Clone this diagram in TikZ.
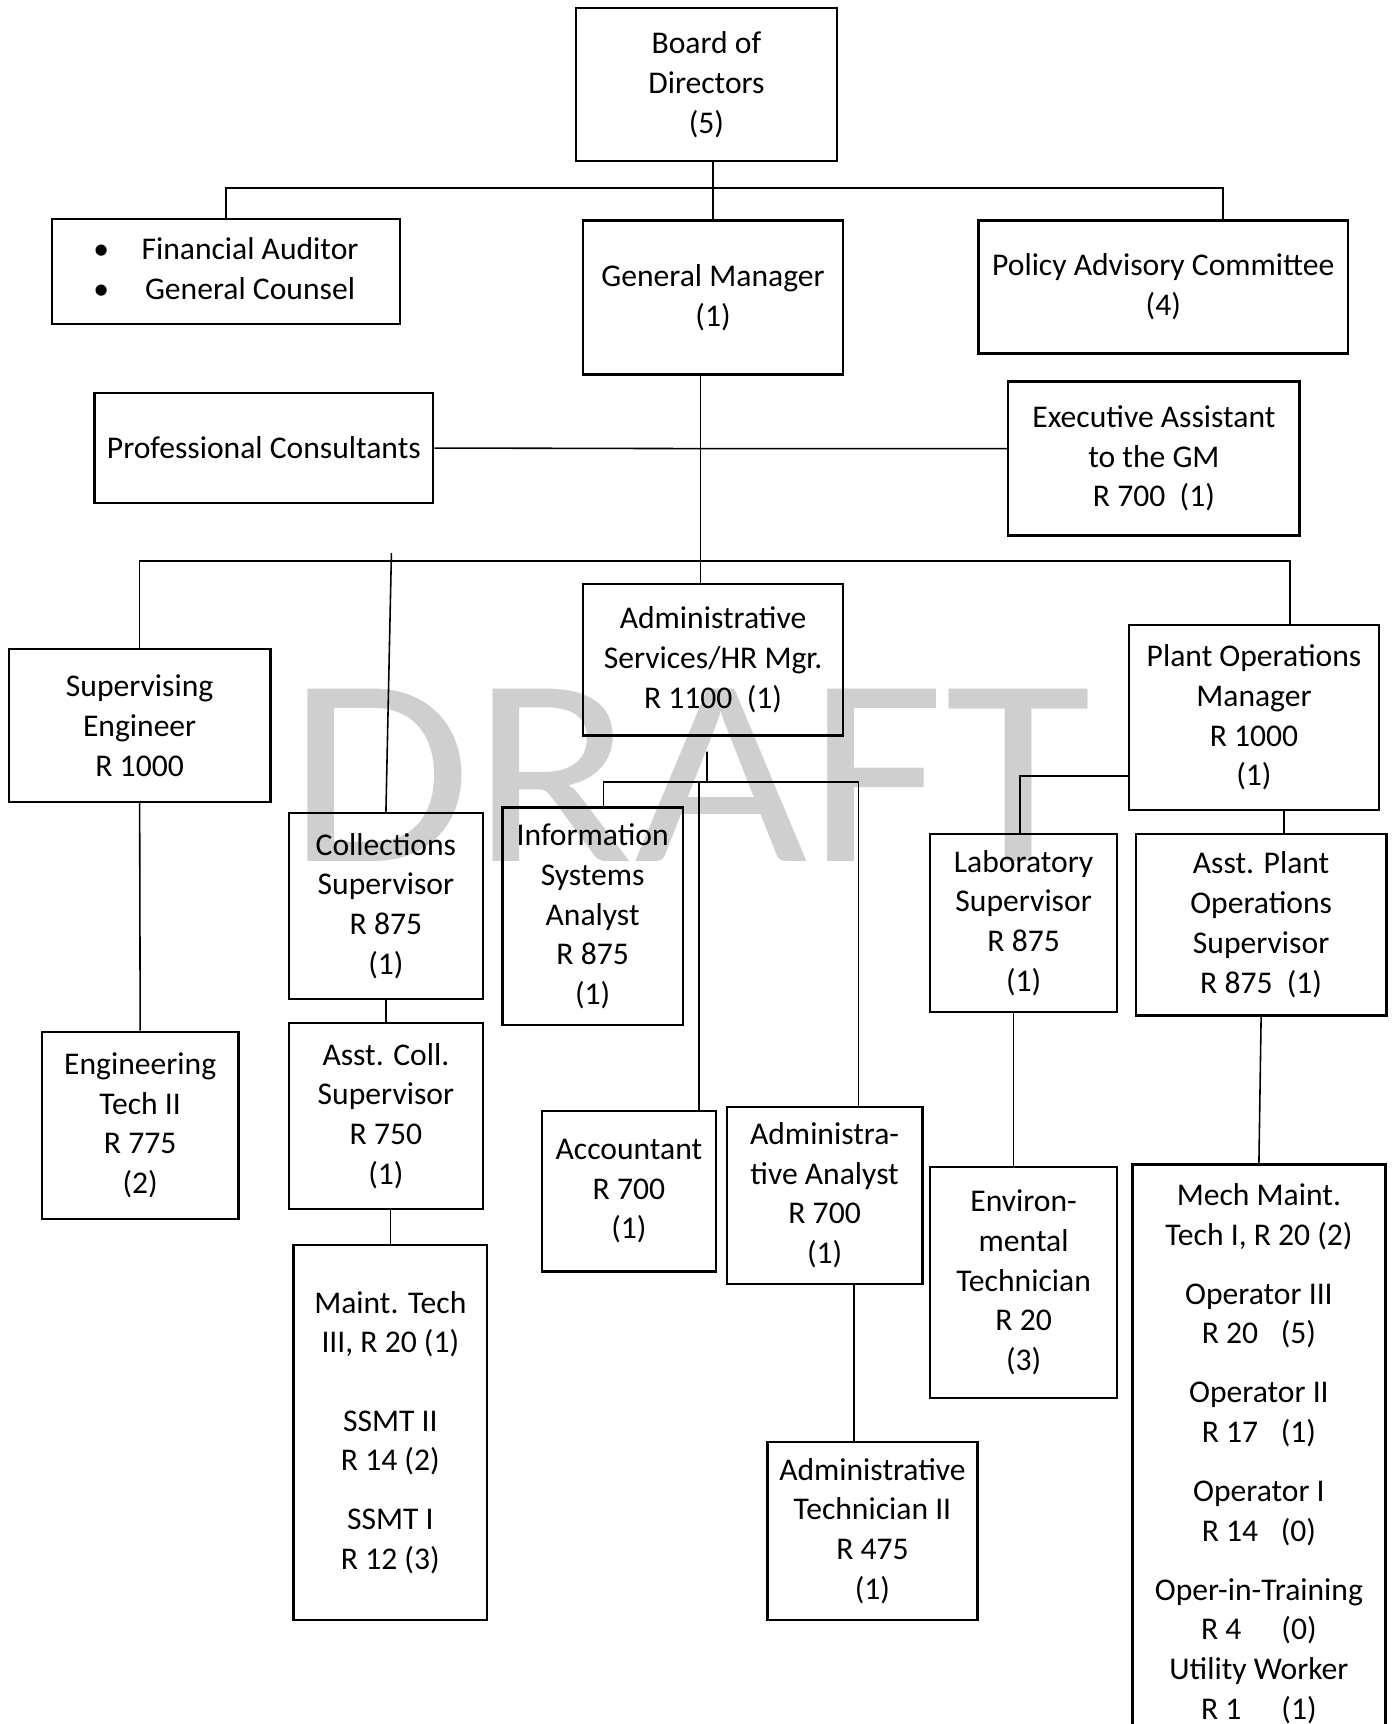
\documentclass[tikz,border=0pt]{standalone}
\usepackage{fontspec}
\setmainfont{Carlito}
\begin{document}
\begin{tikzpicture}[
    x = 0.022cm, y = -0.022cm,
    every node/.style = {font = \fontsize{18}{22.6}\selectfont},
    post/.style = {draw, line width = 1.3pt, align = center, inner sep = 0pt},
    boxsize/.style 2 args = {minimum width = #1*0.022cm, minimum height = #2*0.022cm},
    link/.style = {line width = 0.9pt},
    watermark/.style = {text = black!19, font = \fontsize{153}{153}\selectfont, inner sep = 0pt,
                        xscale = 1.115, transform shape}
  ]
  \useasboundingbox (0, 0) rectangle (1269, 1568);
  \clip (0, 0) rectangle (1269, 1568);
  % watermark
  \node[watermark] (draft) at (627, 705.5) {DRAFT};
  % top level
  \node[post, boxsize = {237}{139}] (bod)  at (642.5,  77) {Board of\\Directors\\(5)};
  \node[post, boxsize = {317}{95}]  (fa)   at (205.5, 247)
    {\begin{tabular}{@{}c@{\hspace{0.65cm}}c@{}}\textbullet & Financial Auditor\\ \textbullet & General Counsel\end{tabular}};
  \node[post, boxsize = {237}{140}] (gm)   at (648.5, 270.5) {General Manager\\(1)};
  \node[post, boxsize = {336}{121}] (pac)  at (1058,  261)   {Policy Advisory Committee\\(4)};
  \node[post, boxsize = {308}{100}] (pc)   at (240,   407.5) {Professional Consultants};
  \node[post, boxsize = {265}{140}] (ea)   at (1049.5, 417)  {Executive Assistant\\to the GM\\R 700\ \ (1)};
  % managers
  \node[post, boxsize = {237}{138}] (asm)  at (648.5, 600)   {Administrative\\Services/HR Mgr.\\R 1100\ \ (1)};
  \node[post, boxsize = {238}{139}] (se)   at (127,   660)   {Supervising\\Engineer\\R 1000};
  \node[post, boxsize = {227}{168}] (pom)  at (1140.5, 652.5) {Plant Operations\\Manager\\R 1000\\(1)};
  % supervisors
  \node[post, boxsize = {176}{169}] (coll) at (351,   824)   {Collections\\Supervisor\\R 875\\(1)};
  \node[post, boxsize = {164}{198}] (isa)  at (539,   833.5) {Information\\Systems\\Analyst\\R 875\\(1)};
  \node[post, boxsize = {170}{162}] (lab)  at (931,   839.5) {Laboratory\\Supervisor\\R 875\\(1)};
  \node[post, boxsize = {228}{165}] (apos) at (1147,  841)   {Asst. Plant\\Operations\\Supervisor\\R 875\ \ (1)};
  % staff
  \node[post, boxsize = {179}{170}] (et)   at (127.5, 1023.5) {Engineering\\Tech II\\R 775\\(2)};
  \node[post, boxsize = {176}{169}] (acol) at (351,  1015)   {Asst. Coll.\\Supervisor\\R 750\\(1)};
  \node[post, boxsize = {158}{146}] (acc)  at (572,  1083.5) {Accountant\\R 700\\(1)};
  \node[post, boxsize = {178}{161}] (aa)   at (750,  1087)   {Administra-\\tive Analyst\\R 700\\(1)};
  \node[post, boxsize = {170}{210}] (env)  at (931,  1166.5) {Environ-\\mental\\Technician\\R 20\\(3)};
  \node[post, boxsize = {176}{341}] (mt)   at (355,  1303)
    {Maint. Tech\\III, R 20 (1)\\[22pt]SSMT II\\R 14 (2)\\[11pt]SSMT I\\R 12 (3)};
  \node[post, boxsize = {191}{162}] (at)   at (793.5, 1392.5) {Administrative\\Technician II\\R 475\\(1)};
  \node[post, boxsize = {230}{526}] (mech) at (1145, 1322)
    {Mech Maint.\\Tech I, R 20 (2)\\[11pt]Operator III\\R 20\hspace{0.45cm}(5)\\[11pt]Operator II\\R 17\hspace{0.45cm}(1)\\[11pt]%
     Operator I\\R 14\hspace{0.45cm}(0)\\[11pt]Oper-in-Training\\R 4\hspace{0.8cm}(0)\\Utility Worker\\R 1\hspace{0.8cm}(1)};
  % board level lines
  \coordinate (topbus) at (649, 171);
  \draw[link] (gm.north |- bod.south) -- (gm.north);
  \draw[link] (fa.north) |- (topbus) -| ([xshift = 1.19cm]pac.north);
  % general manager lines
  \coordinate (gmline) at (637, 408);
  \coordinate (midbus) at (637, 510);
  \coordinate (collup) at (356, 503);
  \draw[link] ([xshift = -0.25cm]gm.south) -- ([xshift = -0.25cm]asm.north);
  \draw[link] (pc.east) -- (gmline) -- (gmline -| ea.west);
  \draw[link] (se.north) |- (midbus) -| ([xshift = 0.715cm]pom.north);
  \draw[link] (collup) -- (coll.north);
  % administrative services lines
  \coordinate (asmbus) at (643, 711);
  \coordinate (accup)  at (636, 711);
  \draw[link, shorten <= 0.3cm] ([xshift = -0.12cm]asm.south) -- (asmbus);
  \draw[link] ([xshift = 0.22cm]isa.north) |- (asmbus) -| ([xshift = 0.68cm]aa.north);
  \draw[link] (accup) -- (accup |- acc.north);
  \draw[link] ([xshift = 0.59cm]aa.south) -- ([xshift = 0.59cm]aa.south |- at.north);
  % plant operations lines
  \draw[link] ([yshift = -1.17cm]pom.west) -| ([xshift = -0.07cm]lab.north);
  \draw[link] ([xshift = 0.6cm]pom.south) -- ([xshift = 0.6cm]pom.south |- apos.north);
  \draw[link] ([xshift = -0.2cm]lab.south) -- ([xshift = -0.2cm]env.north);
  \draw[link] (apos.south) -- (mech.north);
  % remaining lines
  \draw[link] (se.south) -- (et.north);
  \draw[link] (coll.south) -- (acol.north);
  \draw[link] (mt.north |- acol.south) -- (mt.north);
\end{tikzpicture}
\end{document}
